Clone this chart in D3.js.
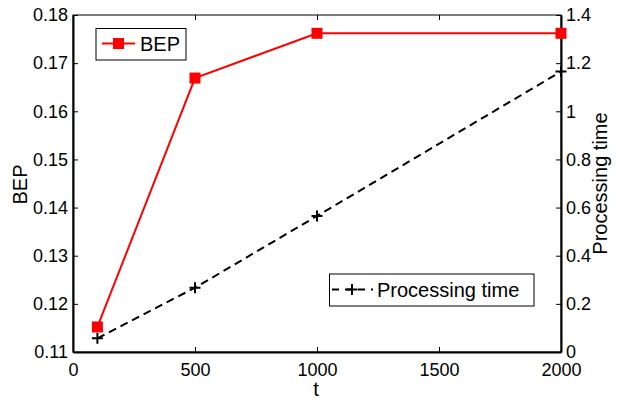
<!DOCTYPE html>
<html>
<head>
<meta charset="utf-8">
<script src="https://cdn.jsdelivr.net/npm/d3@7"></script>
<style>
  body { margin: 0; background: #fff; }
  text { font-family: "Liberation Sans", Arial, sans-serif; }
</style>
</head>
<body>
<div id="chart"></div>
<script>
const tValues = [100, 500, 1000, 2000]
const bepValues = [0.1152, 0.1669, 0.1762, 0.1762]
const timeValues = [0.057, 0.267, 0.565, 1.165]
const xTicks = [0, 500, 1000, 1500, 2000]
const bepTicks = [0.11, 0.12, 0.13, 0.14, 0.15, 0.16, 0.17, 0.18]
const timeTicks = [0, 0.2, 0.4, 0.6, 0.8, 1, 1.2, 1.4]

const width = 617,
  height = 400
const margin = { top: 15, right: 56, bottom: 48, left: 73 }

const svg = d3.select('#chart')
  .append('svg')
  .attr('width', width)
  .attr('height', height)

const x = d3.scaleLinear()
  .domain([0, 2000])
  .range([margin.left, width - margin.right])
const yL = d3.scaleLinear()
  .domain([0.11, 0.18])
  .range([height - margin.bottom, margin.top])
const yR = d3.scaleLinear()
  .domain([0, 1.4])
  .range([height - margin.bottom, margin.top])

const tickFs = '18px'
const labelFs = '20px'
const tick = 5

// box
svg.append('rect')
  .attr('x', margin.left)
  .attr('y', margin.top)
  .attr('width', x(2000) - x(0))
  .attr('height', yL(0.11) - yL(0.18))
  .attr('fill', 'none')
  .attr('stroke', '#000')
  .attr('stroke-width', 1)

// bottom + top ticks
const gx = svg.append('g')
  .attr('transform', `translate(0,${height - margin.bottom})`)
  .call(d3.axisBottom(x).tickValues(xTicks).tickSizeInner(-tick).tickSizeOuter(0).tickPadding(11).tickFormat(d3.format('d')))
gx.select('.domain').attr('stroke-width', 2)
svg.append('g')
  .attr('transform', `translate(0,${margin.top})`)
  .call(d3.axisTop(x).tickValues(xTicks).tickSizeInner(-tick).tickSizeOuter(0).tickFormat(''))
  .select('.domain').remove()

// left axis
const gl = svg.append('g')
  .attr('transform', `translate(${margin.left},0)`)
  .call(d3.axisLeft(yL).tickValues(bepTicks).tickSizeInner(-tick).tickSizeOuter(0).tickPadding(5).tickFormat(d3.format('.2f')))
gl.select('.domain').attr('stroke-width', 2)

// right axis
const gr = svg.append('g')
  .attr('transform', `translate(${width - margin.right},0)`)
  .call(d3.axisRight(yR).tickValues(timeTicks).tickSizeInner(-tick).tickSizeOuter(0).tickPadding(5).tickFormat(d => d3.format('~g')(d)))
gr.select('.domain').attr('stroke-width', 2)

svg.selectAll('.tick text').attr('font-size', tickFs).attr('font-family', '"Liberation Sans", Arial, sans-serif').attr('fill', '#000')
svg.selectAll('.tick line').attr('stroke', '#000')

// axis labels
svg.append('text')
  .attr('x', (x(0) + x(2000)) / 2 - 1)
  .attr('y', 396)
  .attr('text-anchor', 'middle')
  .attr('font-size', labelFs)
  .text('t')
svg.append('text')
  .attr('transform', `translate(27,${(yL(0.11) + yL(0.18)) / 2 + 1}) rotate(-90)`)
  .attr('text-anchor', 'middle')
  .attr('font-size', labelFs)
  .text('BEP')
svg.append('text')
  .attr('transform', `translate(607,${(yL(0.11) + yL(0.18)) / 2}) rotate(-90)`)
  .attr('text-anchor', 'middle')
  .attr('font-size', labelFs)
  .text('Processing time')

// processing time line
const timeLine = d3.line()
  .x((d, i) => x(tValues[i]))
  .y(d => yR(d))
svg.append('path')
  .datum(timeValues)
  .attr('d', timeLine)
  .attr('fill', 'none')
  .attr('stroke', '#000')
  .attr('stroke-width', 2)
  .attr('stroke-dasharray', '8,5')

const plus = (g, cx, cy, s) => {
  g.append('path')
    .attr('d', `M${cx - s},${cy}H${cx + s}M${cx},${cy - s}V${cy + s}`)
    .attr('stroke', '#000')
    .attr('stroke-width', 2)
}
timeValues.forEach((d, i) => plus(svg, x(tValues[i]), yR(d), 5.5))

// BEP line
const bepLine = d3.line()
  .x((d, i) => x(tValues[i]))
  .y(d => yL(d))
svg.append('path')
  .datum(bepValues)
  .attr('d', bepLine)
  .attr('fill', 'none')
  .attr('stroke', '#ff0000')
  .attr('stroke-width', 2)

svg.selectAll('.bepMark')
  .data(bepValues)
  .enter()
  .append('rect')
  .attr('x', (d, i) => x(tValues[i]) - 5.5)
  .attr('y', d => yL(d) - 5.5)
  .attr('width', 11)
  .attr('height', 11)
  .attr('fill', '#ff0000')

// legend BEP
const lg1 = svg.append('g')
lg1.append('rect')
  .attr('x', 96).attr('y', 28.5).attr('width', 90).attr('height', 31.5)
  .attr('fill', '#fff').attr('stroke', '#000')
lg1.append('line')
  .attr('x1', 102).attr('x2', 135).attr('y1', 43.5).attr('y2', 43.5)
  .attr('stroke', '#ff0000').attr('stroke-width', 2)
lg1.append('rect')
  .attr('x', 113).attr('y', 38).attr('width', 11).attr('height', 11)
  .attr('fill', '#ff0000')
lg1.append('text')
  .attr('x', 140).attr('y', 51)
  .attr('font-size', labelFs)
  .text('BEP')

// legend processing time
const lg2 = svg.append('g')
lg2.append('rect')
  .attr('x', 329.5).attr('y', 274).attr('width', 204.5).attr('height', 32)
  .attr('fill', '#fff').attr('stroke', '#000')
lg2.append('line')
  .attr('x1', 332).attr('x2', 373).attr('y1', 289.5).attr('y2', 289.5)
  .attr('stroke', '#000').attr('stroke-width', 2)
  .attr('stroke-dasharray', '7,6')
plus(lg2, 352, 289.5, 5.5)
lg2.append('text')
  .attr('x', 377).attr('y', 296.5)
  .attr('font-size', labelFs)
  .text('Processing time')
</script>
</body>
</html>
